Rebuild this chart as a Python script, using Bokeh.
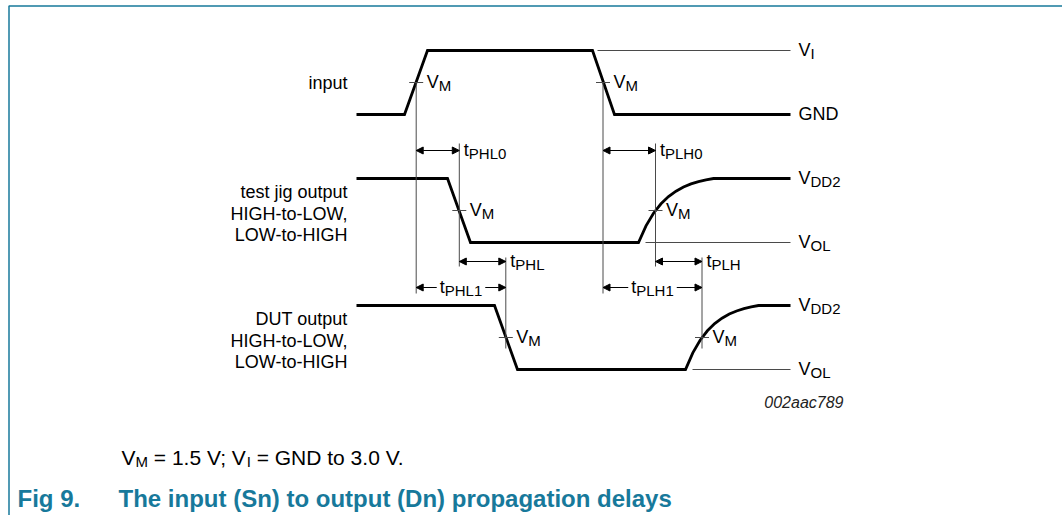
from bokeh.plotting import figure
from bokeh.models import Range1d, Arrow, NormalHead, ColumnDataSource
from bokeh.core.properties import value
from bokeh.embed import file_html
from bokeh.resources import INLINE

FONT = "Liberation Sans"
TEAL = "#17799b"
GUIDE = "#4a4a4a"

# ---------------- data ----------------
# waveform breakpoints on the drawing's time axis, level 0 = low, 1 = high
input_t = [356, 404, 427, 592, 614, 790]
input_v = [0, 0, 1, 1, 0, 0]
jig_t = [356, 447, 470, 638, 645.5, 653, 660.5, 668, 675.5, 683, 690.5, 698, 705.5, 713, 790]
jig_v = [1, 1, 0, 0, 0.26, 0.457, 0.605, 0.717, 0.802, 0.866, 0.915, 0.952, 0.979, 1, 1]
dut_t = [356, 494, 517, 685, 692.3, 699.6, 706.9, 714.2, 721.5, 728.8, 736.1, 743.4, 750.7, 758, 790]
dut_v = [1, 1, 0, 0, 0.26, 0.457, 0.605, 0.717, 0.802, 0.866, 0.915, 0.952, 0.979, 1, 1]

row_labels = [["input"],
              ["test jig output", "HIGH-to-LOW,", "LOW-to-HIGH"],
              ["DUT output", "HIGH-to-LOW,", "LOW-to-HIGH"]]
high_labels = [("V", "I"), ("V", "DD2"), ("V", "DD2")]
low_labels = [("GND", ""), ("V", "OL"), ("V", "OL")]

# thin reference lines: (row, level, start time)
ref_rows = [0, 1, 2]
ref_levels = [1, 0, 0]
ref_start = [597, 645, 692]
ref_end = 790

# V_M crossing times per row
vm_times = [[415.7, 602.5], [458.8, 655], [505.3, 701.5]]
vm_level = 0.5

# propagation delays (simple arrows)
delay_names = ["PHL0", "PLH0", "PHL", "PLH"]
delay_from = [415.7, 602.5, 458.8, 655]
delay_to = [458.8, 655, 505.3, 701.5]
# total delays (split arrows with centred label)
total_names = ["PHL1", "PLH1"]
total_from = [415.7, 602.5]
total_to = [505.3, 701.5]

note_parts = [("V", "M"), (" = 1.5 V; V", "I"), (" = GND to 3.0 V.", "")]
fig_no = "Fig 9."
fig_title = "The input (Sn) to output (Dn) propagation delays"
drawing_id = "002aac789"

# ---------------- layout ----------------
row_high_y = [50, 178, 305]
row_low_y = [114, 242, 369]
delay_y = [150, 150, 261, 261]
total_y = 287
guide_extent = [(None, 293), (143, 266), (257, 348)]
TDY = -6.5  # baseline correction for text

AW = {'V': 667, 'M': 833, ' ': 278, '=': 584, '1': 556, '.': 278, '5': 556, ';': 278,
      'I': 278, 'G': 778, 'N': 722, 'D': 722, 't': 278, 'o': 556, '3': 556, '0': 556,
      'P': 667, 'H': 722, 'L': 556, '2': 556, 'O': 778}


def tw(s, size):
    return sum(AW.get(c, 556) for c in s) * size / 1000.0


def ly(row, v):
    return row_low_y[row] + v * (row_high_y[row] - row_low_y[row])


W, H = 1062, 515
p = figure(width=W, height=H, x_range=Range1d(0, W), y_range=Range1d(H, 0),
           output_backend="svg", toolbar_location=None, min_border=0,
           x_axis_location=None, y_axis_location=None)
p.grid.visible = False
p.outline_line_color = None
p.background_fill_color = "white"

# frame border
p.line(x=[8.5, 8.5, W], y=[H, 5.5, 5.5], line_color=TEAL, line_width=1.5)


def text(x, y, s, size, align="left", style="normal", color="black"):
    p.text(x=[x], y=[y + TDY], text=[s], text_font=value(FONT),
           text_font_size=value(f"{size}px"), text_align=align,
           text_baseline="alphabetic", text_font_style=style, text_color=color)


def sublabel(x, level_y, main, sub, size=18, ssize=15, drop=3.5):
    base = level_y + 0.36 * size
    text(x, base, main, size)
    if sub:
        text(x + tw(main, size), base + drop, sub, ssize)


# waveforms
for r, (tt, vv) in enumerate([(input_t, input_v), (jig_t, jig_v), (dut_t, dut_v)]):
    p.line(x=tt, y=[ly(r, v) for v in vv], line_color="black", line_width=2.8,
           line_join="miter")

# thin reference lines
for r, lv, st in zip(ref_rows, ref_levels, ref_start):
    p.line(x=[st, ref_end], y=[ly(r, lv), ly(r, lv)], line_color=GUIDE, line_width=1)

# V_M ticks, guides and labels
for r, times in enumerate(vm_times):
    yv = ly(r, vm_level)
    top, bot = guide_extent[r]
    for t in times:
        p.line(x=[t - 7, t + 7], y=[yv, yv], line_color=GUIDE, line_width=1)
        p.line(x=[t, t], y=[yv if top is None else top, bot], line_color=GUIDE, line_width=1)
        sublabel(t + 10.5, yv, "V", "M")

# row labels on the left
for r, lines in enumerate(row_labels):
    if len(lines) == 1:
        centers = [ly(r, vm_level)]
    else:
        mid = ly(r, vm_level) + 3
        centers = [mid - 21.5, mid, mid + 21.5]
    for s, c in zip(lines, centers):
        text(347, c + 6.5, s, 18, align="right")

# level labels on the right
for r in range(3):
    m, s = high_labels[r]
    sublabel(798, ly(r, 1), m, s)
    m, s = low_labels[r]
    sublabel(798, ly(r, 0), m, s)

# delay arrows
head = dict(size=7, fill_color="black", line_color="black", line_width=1)
src = ColumnDataSource(dict(x0=delay_from, x1=delay_to, y=delay_y))
p.add_layout(Arrow(start=NormalHead(**head), end=NormalHead(**head), source=src,
                   x_start="x0", y_start="y", x_end="x1", y_end="y",
                   line_color="black", line_width=1))
for n, x1, y in zip(delay_names, delay_to, delay_y):
    sublabel(x1 + 4.5, y, "t", n)

# total delays: split arrows with centred label
for n, x0, x1 in zip(total_names, total_from, total_to):
    lw = tw("t", 18) + tw(n, 15)
    cx = (x0 + x1) / 2
    lx0 = cx - lw / 2
    sublabel(lx0, total_y, "t", n)
    src2 = ColumnDataSource(dict(xs=[lx0 - 3, lx0 + lw + 3], xe=[x0, x1],
                                 y=[total_y, total_y]))
    p.add_layout(Arrow(end=NormalHead(**head), source=src2,
                       x_start="xs", y_start="y", x_end="xe", y_end="y",
                       line_color="black", line_width=1))

# drawing id
text(843, 408, drawing_id, 16, align="right", style="italic", color="#222222")

# note line (leading spaces advance x explicitly: SVG drops them)
x = 121
for main, sub in note_parts:
    stripped = main.lstrip(" ")
    x += tw(main[:len(main) - len(stripped)], 21)
    text(x, 463, stripped, 21)
    x += tw(stripped, 21)
    if sub:
        text(x, 467, sub, 15)
        x += tw(sub, 15)

# figure caption
text(17, 504, fig_no, 24, style="bold", color=TEAL)
text(118, 504, fig_title, 24, style="bold", color=TEAL)

open("out.html", "w").write(file_html(p, INLINE))
